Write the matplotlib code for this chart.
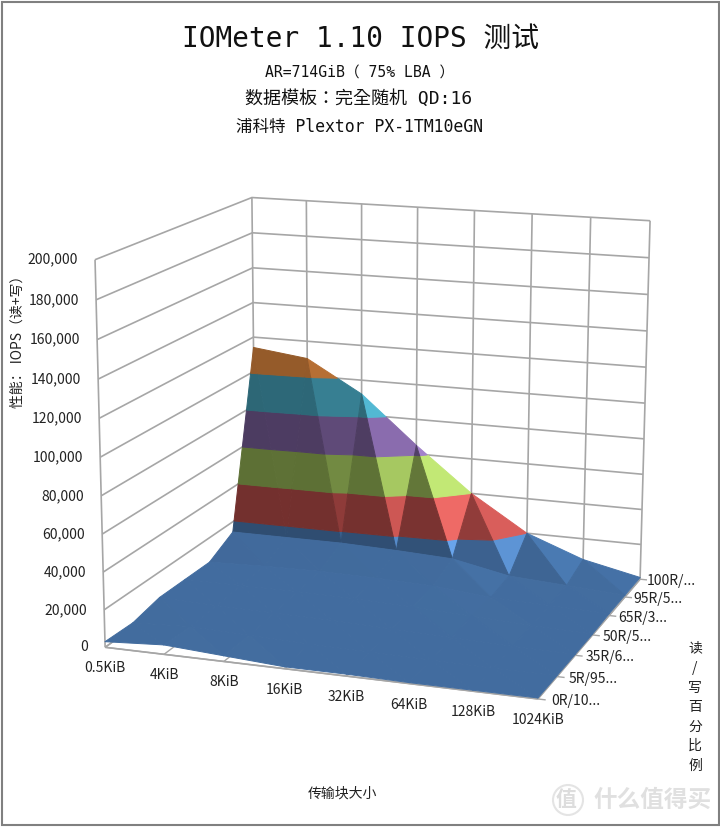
import numpy as np
import matplotlib
matplotlib.use('Agg')
import matplotlib.pyplot as plt
from matplotlib.collections import PolyCollection
from matplotlib.colors import to_rgb
from matplotlib.patches import Circle, Rectangle

CJK = ['Noto Sans CJK SC', 'DejaVu Sans']
MONO = ['DejaVu Sans Mono', 'Noto Sans CJK SC']
MONO_TC = ['DejaVu Sans Mono', 'Noto Sans CJK TC']

block_sizes = ['0.5KiB', '4KiB', '8KiB', '16KiB', '32KiB', '64KiB', '128KiB', '1024KiB']
rw_labels = ['0R/10...', '5R/95...', '35R/6...', '50R/5...', '65R/3...', '95R/5...', '100R/...']
iops_ticks = [0, 20000, 40000, 60000, 80000, 100000, 120000, 140000, 160000, 180000, 200000]

# one list per read/write mix, front to back
iops_0r = [3000, 5000, 3000, 1000, 1000, 500, 500, 500]
iops_5r = [2500, 4000, 3000, 2000, 1500, 1000, 500, 500]
iops_35r = [6000, 5000, 4500, 4000, 3000, 2000, 1000, 500]
iops_50r = [6000, 6000, 6000, 5500, 4500, 3000, 1500, 500]
iops_65r = [6000, 7000, 7500, 7000, 6000, 3000, 2000, 1000]
iops_95r = [14000, 14000, 14000, 13000, 11500, 5000, 3000, 1000]
iops_100r = [114000, 110000, 92000, 65000, 40000, 20000, 8000, 1000]

band_colors = ['#4F81BD', '#C0504D', '#9BBB59', '#8064A2', '#4BACC6', '#F79646']
BAND = 20000.

Z = np.array([iops_0r, iops_5r, iops_35r, iops_50r, iops_65r, iops_95r, iops_100r], dtype=float)
nj, ni = Z.shape


def fit_camera():
    # box corners (block, mix, iops/20000) and where they land on the page
    world = [(0, 0, 0), (7, 0, 0), (7, 6, 0), (0, 6, 0), (0, 0, 10), (7, 6, 10), (0, 6, 10)]
    page = [(105, 646), (538, 700), (640, 578), (255.6, 541), (95, 260), (650, 221), (252, 197)]
    rows = []
    for (x, y, z), (u, v) in zip(world, page):
        rows.append([x, y, z, 1, 0, 0, 0, 0, -u*x, -u*y, -u*z, -u])
        rows.append([0, 0, 0, 0, x, y, z, 1, -v*x, -v*y, -v*z, -v])
    return np.linalg.svd(np.array(rows))[2][-1].reshape(3, 4)


P = fit_camera()


def project(x, y, iops):
    pts = np.column_stack([x, y, np.asarray(iops, dtype=float) / BAND, np.ones(len(x))])
    q = pts @ P.T
    return q[:, :2] / q[:, 2:]


def depth(x, y, iops):
    w = P @ np.array([x, y, iops / BAND, 1.])
    back = P @ np.array([0, 6, 0, 1.])
    front = P @ np.array([0, 0, 0, 1.])
    return w[2] * np.sign(back[2] - front[2])


def clip(poly, level, keep_above):
    out = []
    for k in range(len(poly)):
        a, b = poly[k], poly[(k + 1) % len(poly)]
        ina = a[2] >= level if keep_above else a[2] <= level
        inb = b[2] >= level if keep_above else b[2] <= level
        if ina:
            out.append(a)
        if ina != inb:
            out.append(a + (b - a) * (level - a[2]) / (b[2] - a[2]))
    return out


def shade(tri):
    # flat shading: flat floor stays even, faces turned right get bright, steep front faces dark
    a, b, c = [t * np.array([1., 1., 0.75 / BAND]) for t in tri]
    n = np.cross(b - a, c - a)
    n = n / np.linalg.norm(n)
    if n[2] < 0:
        n = -n
    return 0.84 + n[0] * abs(n[0]) * (0.6 + 2.4 * n[1] ** 2) - 0.26 * n[1] ** 2


def facet_color(base, s):
    c = np.array(to_rgb(base)) * s
    if s > 1:
        c = c + (s - 1) * 0.25
    return np.clip(c, 0, 1)


tris = []
for j in range(nj - 1):
    for i in range(ni - 1):
        p00 = np.array([i, j, Z[j, i]])
        p10 = np.array([i + 1, j, Z[j, i + 1]])
        p01 = np.array([i, j + 1, Z[j + 1, i]])
        p11 = np.array([i + 1, j + 1, Z[j + 1, i + 1]])
        tris.append([p01, p00, p10])
        tris.append([p01, p11, p10])
tris.sort(key=lambda t: -depth(*np.mean(t, axis=0)))

polys, cols = [], []
for tri in tris:
    s = shade(tri)
    for b, base in enumerate(band_colors):
        piece = clip(clip(list(tri), b * BAND, True), (b + 1) * BAND, False)
        if len(piece) < 3:
            continue
        piece = np.array(piece)
        polys.append(project(piece[:, 0], piece[:, 1], piece[:, 2]))
        cols.append(facet_color(base, s))

fig = plt.figure(figsize=(7.2, 8.27), dpi=100)
ax = fig.add_axes([0, 0, 1, 1])
ax.set_xlim(0, 720)
ax.set_ylim(827, 0)
ax.axis('off')

GRID = '#a6a6a6'


def line3d(x, y, v, lw=1.2):
    pts = project(np.atleast_1d(x), np.atleast_1d(y), np.atleast_1d(v))
    ax.plot(pts[:, 0], pts[:, 1], color=GRID, lw=lw, solid_capstyle='butt', zorder=1)


# walls and floor
for v in iops_ticks:
    line3d([0, 0, 7], [0, 6, 6], [v, v, v])
for i in range(ni):
    line3d([i, i], [6, 6], [0, 200000])
    line3d([i, i], [0, 6], [0, 0], lw=1.0)
for j in range(nj):
    line3d([0, 7.12], [j, j], [0, 0], lw=1.0)
line3d([0, 0], [0, 0], [0, 200000])
line3d([7, 7], [0, 6], [0, 0])
line3d([0, 7], [0, 0], [0, 0])

ax.add_collection(PolyCollection(polys, facecolors=cols, edgecolors=cols, linewidths=0.7, zorder=2))

ax.text(360, 39, 'IOMeter 1.10 IOPS 测试', family=MONO, fontsize=20, ha='center', va='center', color='#111111')
ax.text(360, 73, 'AR=714GiB（ 75% LBA ）', family=MONO, fontsize=10.6, ha='center', va='center', color='#111111')
ax.text(359, 99, '数据模板：完全随机 QD:16', family=MONO_TC, fontsize=13, ha='center', va='center', color='#111111')
ax.text(360, 127, '浦科特 Plextor PX-1TM10eGN', family=MONO, fontsize=11.9, ha='center', va='center', color='#111111')

for v in iops_ticks:
    (x, y), = project([0], [0], [v])
    ax.text(x - 17, y, f'{v:,}', family=CJK, fontsize=10, ha='right', va='center', color='#222222')
for i, name in enumerate(block_sizes):
    (x, y), = project([i], [0], [0])
    ax.text(x, y + 21, name, family=CJK, fontsize=10, ha='center', va='center', color='#222222')
for j, name in enumerate(rw_labels):
    (x, y), = project([7], [j], [0])
    ax.text(x + 13 - j, y + 2, name, family=CJK, fontsize=10, ha='left', va='center', color='#222222')

ax.text(342, 794, '传输块大小', family=CJK, fontsize=10, ha='center', va='center', color='#222222')
ax.text(18, 338, '性能： IOPS（读+写）', family=CJK, fontsize=10, rotation=90, ha='center', va='center', color='#222222')
ax.text(695, 707, '\n'.join('读/写百分比例'), family=CJK, fontsize=10, ha='center', va='center', linespacing=1.5, color='#222222')

# watermark
ax.add_patch(Circle((568, 800), 15, fill=False, ec='#e4e4e4', lw=1.5))
ax.text(566, 800, '值', family=CJK, fontsize=15, ha='center', va='center', color='#dddddd', weight='bold')
ax.text(653, 800, '什么值得买', family=CJK, fontsize=17, ha='center', va='center', color='#e0e0e0', weight='bold')

ax.add_patch(Rectangle((1.5, 2), 717, 823, fill=False, ec='#808080', lw=1.5, zorder=5))

fig.savefig('out.png', dpi=100)
